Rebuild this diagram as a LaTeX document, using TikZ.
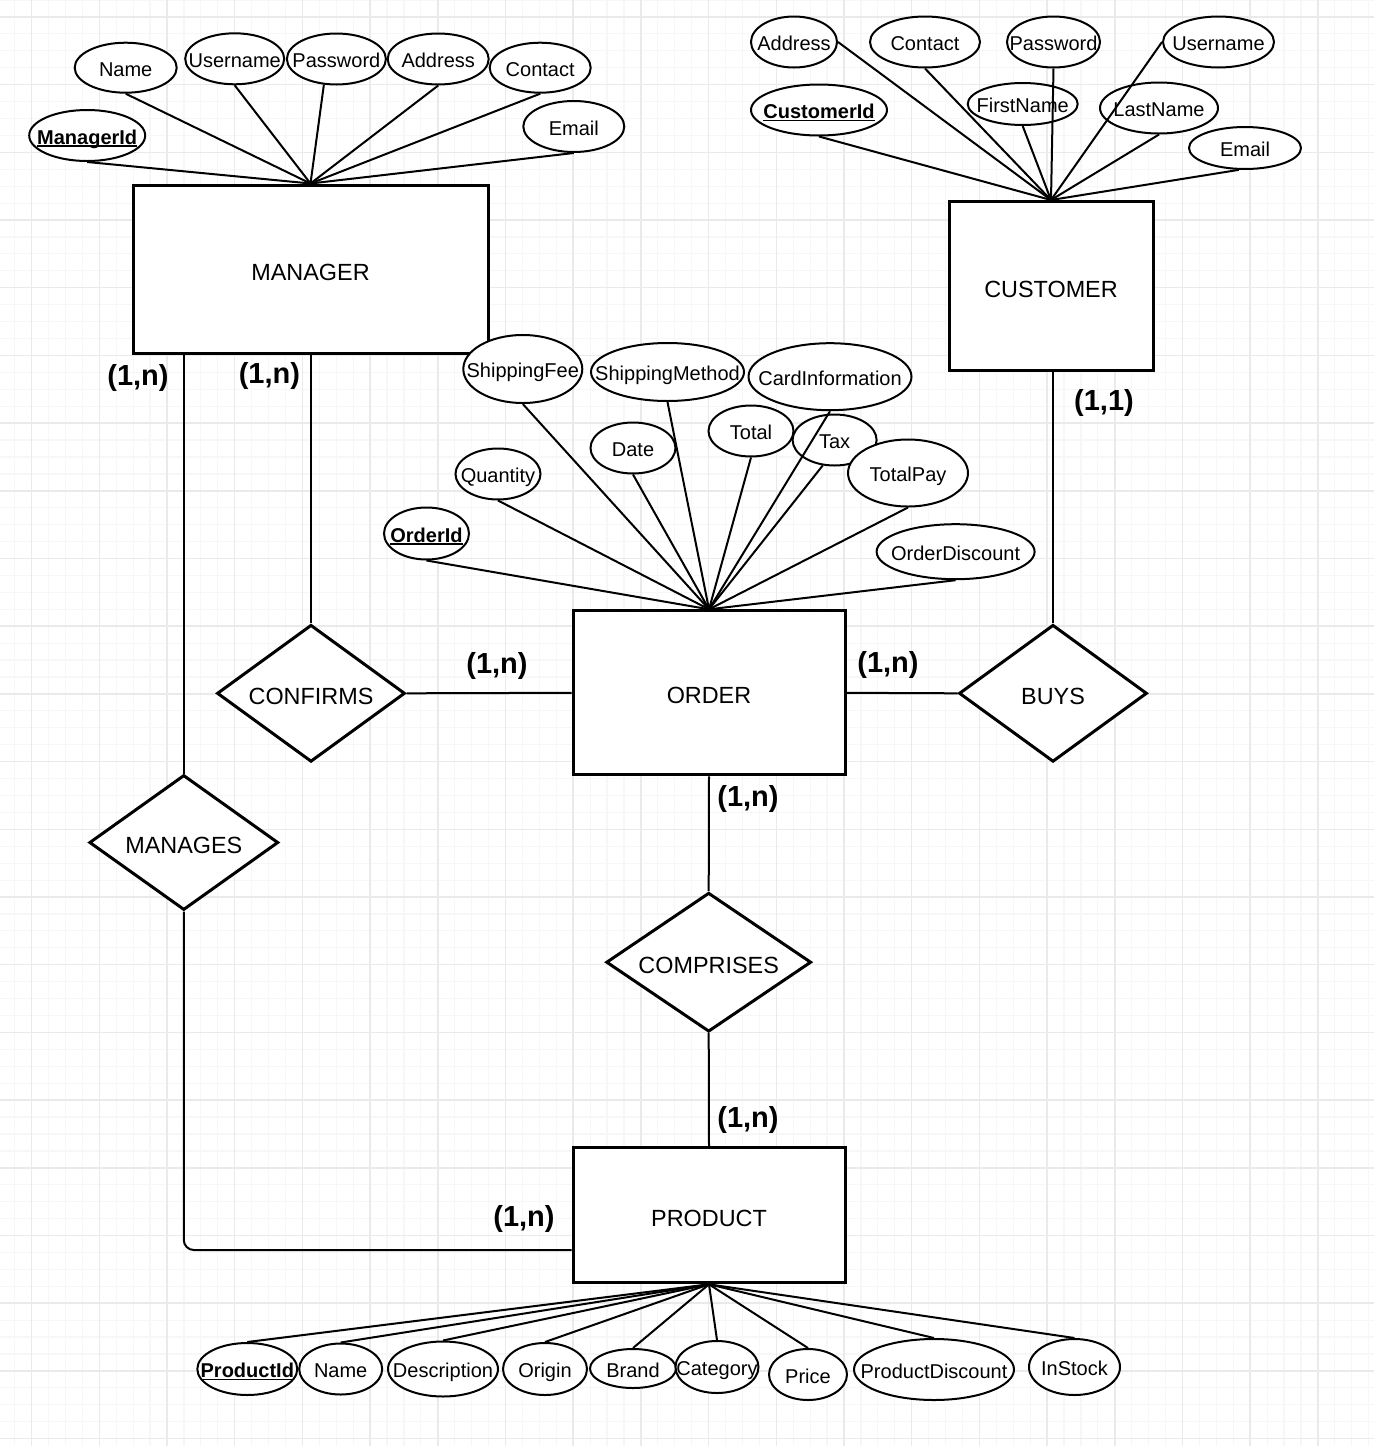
\documentclass[tikz,border=0pt]{standalone}
\usepackage{fontspec}
\setmainfont{Liberation Sans}
\usetikzlibrary{shapes.geometric}
\definecolor{gridminor}{RGB}{247,247,247}
\definecolor{gridmajor}{RGB}{234,234,234}
\newcommand{\ztext}[1]{\makebox[0pt]{#1}}
\newcommand{\keyattr}[1]{\setbox0\hbox{\textbf{#1}}\rlap{\rule[-2.5pt]{\wd0}{1.5pt}}\box0}
\begin{document}
\begin{tikzpicture}[x=1pt,y=-1pt,
  attr/.style={ellipse, draw, line width=2pt, fill=white, inner sep=0pt,
    font=\fontsize{20}{24}\selectfont, text height=21pt, text depth=4pt},
  ent/.style={rectangle, draw, line width=3pt, fill=white, inner sep=0pt,
    font=\fontsize{23.4}{28}\selectfont, text height=26pt, text depth=4pt},
  rel/.style={diamond, draw, line width=3pt, fill=white, inner sep=0pt,
    font=\fontsize{23.4}{28}\selectfont, text height=26pt, text depth=4pt},
  conn/.style={line width=2pt},
  card/.style={inner sep=0pt, font=\bfseries\fontsize{29}{34}\selectfont,
    text height=21.2pt, text depth=6.1pt},
  gmin/.style={line width=1.2pt, draw=gridminor},
  gmaj/.style={line width=1.5pt, draw=gridmajor},
  sz/.style 2 args={minimum width=#1, minimum height=#2},
]
\useasboundingbox[fill=white] (0,0) rectangle (1374,1446);
% background grid
\foreach \i in {0,...,82} \draw[gmin] ({-2.25+\i*16.925},0) -- ++(0,1446);
\foreach \j in {0,...,86} \draw[gmin] (0,{\j*16.925}) -- ++(1374,0);
\foreach \k in {0,...,20} \draw[gmaj] ({31.6+\k*67.7},0) -- ++(0,1446);
\foreach \k in {0,...,21} \draw[gmaj] (0,{16.9+\k*67.7}) -- ++(1374,0);

% ---------- MANAGER ----------
\node[ent, sz={355}{168}] (mgr) at (310.5,269) {\ztext{MANAGER}};
\node[attr, sz={102}{50}] (mname) at (125.7,67.7) {\ztext{Name}};
\node[attr, sz={99}{51}] (musr) at (234.7,58.8) {\ztext{Username}};
\node[attr, sz={99}{51}] (mpw) at (336.4,59) {\ztext{Password}};
\node[attr, sz={101}{51}] (madr) at (438.2,59) {\ztext{Address}};
\node[attr, sz={101}{50}] (mcon) at (540.2,67.7) {\ztext{Contact}};
\node[attr, sz={101}{51}] (memail) at (573.8,126.5) {\ztext{Email}};
\node[attr, sz={116}{51}] (mid) at (87.2,135.5) {\ztext{\keyattr{ManagerId}}};

% ---------- CUSTOMER ----------
\node[ent, sz={204}{169}] (cust) at (1051,286) {\ztext{CUSTOMER}};
\node[attr, sz={86}{51}] (cadr) at (794,42) {\ztext{Address}};
\node[attr, sz={110}{51}] (ccon) at (925,42) {\ztext{Contact}};
\node[attr, sz={93}{51}] (cpw) at (1053.5,42) {\ztext{Password}};
\node[attr, sz={111}{51}] (cusr) at (1218.5,42) {\ztext{Username}};
\node[attr, sz={136}{51}] (cid) at (819,110) {\ztext{\keyattr{CustomerId}}};
\node[attr, sz={110}{42}] (cfn) at (1022.7,104) {\ztext{FirstName}};
\node[attr, sz={118}{51}] (cln) at (1159,108) {\ztext{LastName}};
\node[attr, sz={112}{42}] (cemail) at (1245,148) {\ztext{Email}};

% ---------- ORDER ----------
\node[ent, sz={272}{164}] (ord) at (709,692.8) {\ztext{ORDER}};
\node[attr, sz={119}{68}] (ofee) at (522.8,369) {\ztext{ShippingFee}};
\node[attr, sz={153}{58}] (ometh) at (667.5,372) {\ztext{ShippingMethod}};
\node[attr, sz={163}{67}] (ocard) at (830,376.7) {\ztext{CardInformation}};
\node[attr, sz={85}{51}] (odate) at (633,448) {\ztext{Date}};
\node[attr, sz={85}{51}] (ototal) at (751,431) {\ztext{Total}};
\node[attr, sz={84}{51}] (otax) at (834.6,440) {\ztext{Tax}};
\node[attr, sz={120}{67}] (opay) at (908,473) {\ztext{TotalPay}};
\node[attr, sz={85}{51}] (oqty) at (498,474) {\ztext{Quantity}};
\node[attr, sz={85}{52}] (oid) at (426.5,533.5) {\ztext{\keyattr{OrderId}}};
\node[attr, sz={158}{55}] (odisc) at (955.6,551.7) {\ztext{OrderDiscount}};

% ---------- relationships ----------
\node[rel, sz={188}{137}] (cnf) at (311,693.3) {\ztext{CONFIRMS}};
\node[rel, sz={189}{135}] (mgs) at (183.8,842.5) {\ztext{MANAGES}};
\node[rel, sz={188}{137}] (buy) at (1053,693.3) {\ztext{BUYS}};
\node[rel, sz={205}{139}] (cmp) at (708.7,962.2) {\ztext{COMPRISES}};

% ---------- PRODUCT ----------
\node[ent, sz={272}{135}] (prd) at (709,1215.3) {\ztext{PRODUCT}};
\node[attr, sz={100}{52}] (pid) at (247.3,1369) {\ztext{\keyattr{ProductId}}};
\node[attr, sz={83}{51}] (pname) at (340.7,1369) {\ztext{Name}};
\node[attr, sz={110}{55}] (pdesc) at (443,1369) {\ztext{Description}};
\node[attr, sz={84}{52}] (porig) at (545,1369) {\ztext{Origin}};
\node[attr, sz={86}{39}] (pbrand) at (633,1368.5) {\ztext{Brand}};
\node[attr, sz={83}{52}] (pcat) at (717,1367) {\ztext{Category}};
\node[attr, sz={78}{51}] (pprice) at (808,1374.5) {\ztext{Price}};
\node[attr, sz={160}{61}] (pdisc) at (934,1369.5) {\ztext{ProductDiscount}};
\node[attr, sz={91}{56}] (pstock) at (1074.5,1367) {\ztext{InStock}};

% ---------- attribute connectors ----------
\foreach \a in {mname.south, musr.south, mpw.244, madr.south, mcon.south, memail.south, mid.south}
  \draw[conn] (\a) -- (mgr.north);
\foreach \a in {cadr.east, ccon.south, cpw.south, cusr.west, cid.south, cfn.south, cln.south, cemail.254}
  \draw[conn] (\a) -- (cust.north);
\foreach \a in {oid.south, oqty.south, ofee.south, odate.south, ometh.south, ototal.south, ocard.south, otax.245, opay.south, odisc.south}
  \draw[conn] (\a) -- (ord.north);
\foreach \a in {pid.north, pname.north, pdesc.north, porig.north, pbrand.north, pcat.north, pprice.north, pdisc.north, pstock.north}
  \draw[conn] (\a) -- (prd.south);

% ---------- relationship connectors ----------
\coordinate (mpbend) at (183,1250);
\draw[conn] (mgs.north) -- (mgs.north |- mgr.south);
\draw[conn] (cnf.north) -- (cnf.north |- mgr.south);
\draw[conn] (cnf.east) -- (ord.west);
\draw[conn] (ord.east) -- (buy.west);
\draw[conn] (buy.north) -- (buy.north |- cust.south);
\draw[conn] (ord.south) -- (cmp.north);
\draw[conn] (cmp.south) -- (prd.north);
\draw[conn, rounded corners=10pt] (mgs.south) -- (mgs.south |- mpbend) -- (prd.west |- mpbend);

% ---------- cardinalities ----------
\node[card] (k1) at (138,377.7) {(1,n)};
\node[card] (k2) at (269.4,375.5) {(1,n)};
\node[card] (k3) at (1104,402.5) {(1,1)};
\node[card] (k4) at (497,666) {(1,n)};
\node[card] (k5) at (888,664.5) {(1,n)};
\node[card] (k6) at (748,799) {(1,n)};
\node[card] (k7) at (748,1120) {(1,n)};
\node[card] (k8) at (524,1219) {(1,n)};
\end{tikzpicture}
\end{document}
